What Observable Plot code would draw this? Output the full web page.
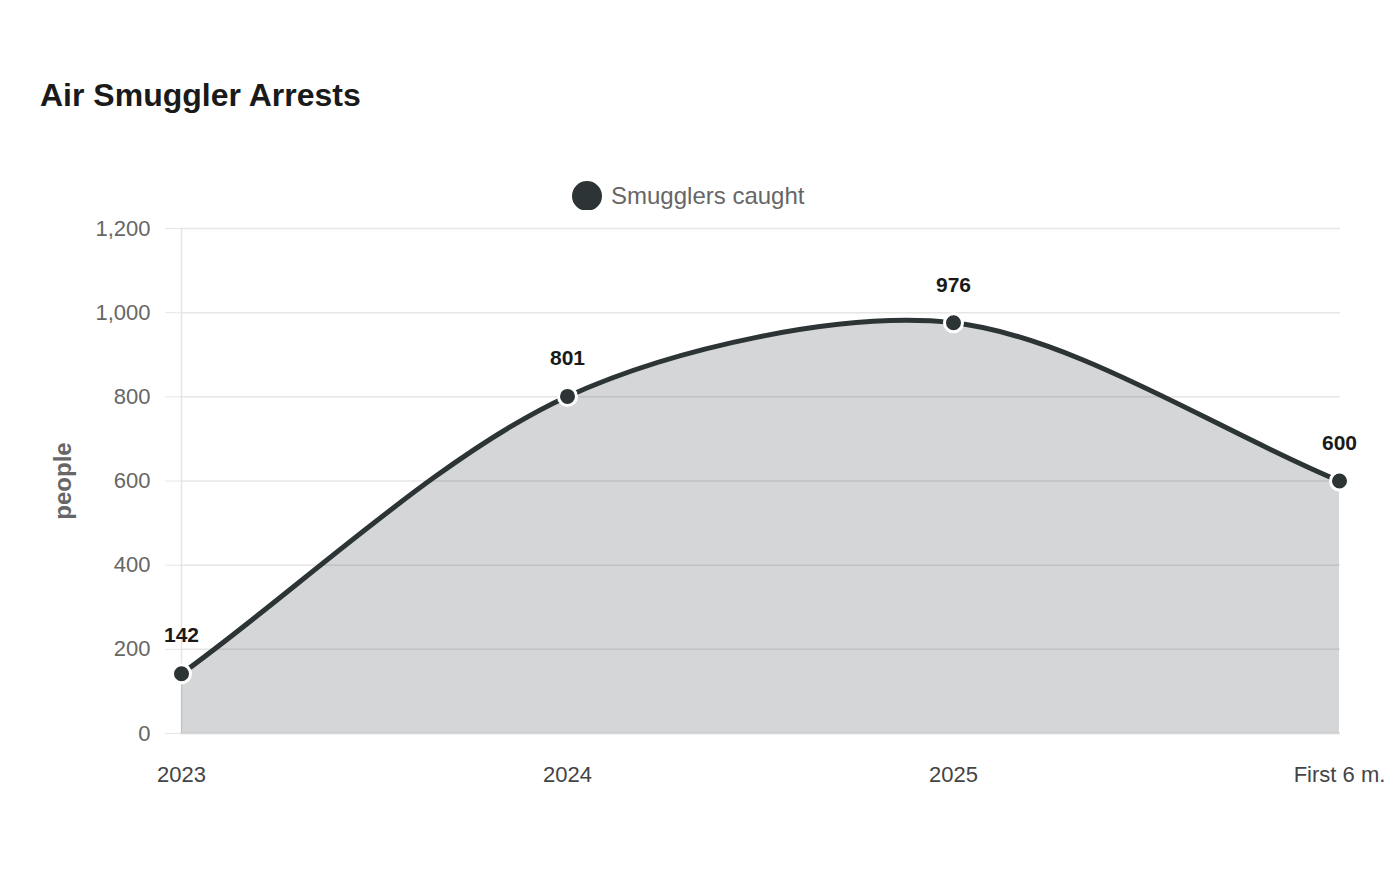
<!DOCTYPE html>
<html>
<head>
<meta charset="utf-8">
<script src="https://cdn.jsdelivr.net/npm/d3@7"></script>
<script src="https://cdn.jsdelivr.net/npm/@observablehq/plot@0.6"></script>
<style>
  html, body { margin: 0; padding: 0; background: #fff; }
  body { width: 1400px; height: 880px; position: relative; overflow: hidden;
         font-family: "Liberation Sans", Arial, Helvetica, sans-serif; }
  #title { position: absolute; left: 40px; top: 77px; font-size: 32px; font-weight: bold; color: #1a1a1a; }
  #legend { position: absolute; left: 572px; top: 181px; height: 30px; display: flex; align-items: center;
            font-size: 24px; color: #666; }
  #legend .swatch { width: 30px; height: 30px; border-radius: 50%; background: #2d3436; margin-right: 9px; }
  #chart { position: absolute; left: 0; top: 210px; }
</style>
</head>
<body>
<div id="title">Air Smuggler Arrests</div>
<div id="legend"><span class="swatch"></span><span>Smugglers caught</span></div>
<div id="chart"></div>
<script>
// Reporting periods and arrests per period
const periods = ["2023", "2024", "2025", "First 6 m."];
const caught = [142, 801, 976, 600];
const yTicks = [0, 200, 400, 600, 800, 1000, 1200];

const data = periods.map((period, i) => ({period, caught: caught[i]}));

// Smooth spline: control points lie along the neighbour chord, scaled by segment lengths
function tensionCurve(tension) {
  function Curve(context) { this._context = context; }
  Curve.prototype = {
    areaStart() { this._line = 0; },
    areaEnd() { this._line = NaN; },
    lineStart() { this._pts = []; },
    point(x, y) { this._pts.push([+x, +y]); },
    lineEnd() {
      const p = this._pts, n = p.length, ctx = this._context;
      if (n) {
        if (this._line) ctx.lineTo(p[0][0], p[0][1]); else ctx.moveTo(p[0][0], p[0][1]);
        const cpPrev = [], cpNext = [];
        for (let i = 0; i < n; i++) {
          const a = p[Math.max(i - 1, 0)], m = p[i], b = p[Math.min(i + 1, n - 1)];
          const d01 = Math.hypot(m[0] - a[0], m[1] - a[1]);
          const d12 = Math.hypot(b[0] - m[0], b[1] - m[1]);
          let s01 = d01 / (d01 + d12), s12 = d12 / (d01 + d12);
          if (!isFinite(s01)) s01 = 0;
          if (!isFinite(s12)) s12 = 0;
          const fa = tension * s01, fb = tension * s12;
          cpPrev.push([m[0] - fa * (b[0] - a[0]), m[1] - fa * (b[1] - a[1])]);
          cpNext.push([m[0] + fb * (b[0] - a[0]), m[1] + fb * (b[1] - a[1])]);
        }
        for (let i = 0; i < n - 1; i++) {
          ctx.bezierCurveTo(cpNext[i][0], cpNext[i][1], cpPrev[i + 1][0], cpPrev[i + 1][1], p[i + 1][0], p[i + 1][1]);
        }
      }
      if (this._line || (this._line !== 0 && n === 1)) ctx.closePath();
      this._line = 1 - this._line;
    }
  };
  return (context) => new Curve(context);
}
const curve = tensionCurve(0.3);

const ink = "#2d3436";
const grid = "#e6e6e6";

const chart = Plot.plot({
  width: 1400,
  height: 600,
  marginTop: 18,
  marginBottom: 77,
  marginLeft: 180,
  marginRight: 60,
  style: {fontFamily: '"Liberation Sans", Arial, Helvetica, sans-serif', background: "#fff", overflow: "visible"},
  x: {type: "point", domain: periods, padding: 0},
  y: {domain: [0, 1200]},
  marks: [
    Plot.gridY(yTicks, {stroke: grid, strokeOpacity: 1, strokeWidth: 1.5}),
    Plot.axisY({ticks: yTicks, tickSize: 15, tickPadding: 15, stroke: grid, strokeOpacity: 1,
                fill: "#666", fontSize: 22, label: null, tickFormat: d3.format(",")}),
    Plot.axisX({tickSize: 0, tickPadding: 33, fill: "#444", fontSize: 22, label: null}),
    Plot.ruleX([periods[0]], {stroke: grid, strokeWidth: 1.5}),
    Plot.ruleY([0], {stroke: "#dcdcdc", strokeWidth: 1.5}),
    Plot.areaY(data, {x: "period", y: "caught", curve, fill: ink, fillOpacity: 0.2}),
    Plot.line(data, {x: "period", y: "caught", curve, stroke: ink, strokeWidth: 5}),
    Plot.dot(data, {x: "period", y: "caught", r: 9, fill: ink, stroke: "#fff", strokeWidth: 3}),
    Plot.text(data, {x: "period", y: "caught", text: (d) => d3.format(",")(d.caught), dy: -38,
                     fontSize: 21, fontWeight: "bold", fill: "#1a1a1a"}),
    Plot.text(["people"], {frameAnchor: "left", dx: -117, rotate: -90, textAnchor: "middle",
                           fontSize: 24, fontWeight: "bold", fill: "#666"})
  ]
});
document.getElementById("chart").append(chart);
</script>
</body>
</html>
